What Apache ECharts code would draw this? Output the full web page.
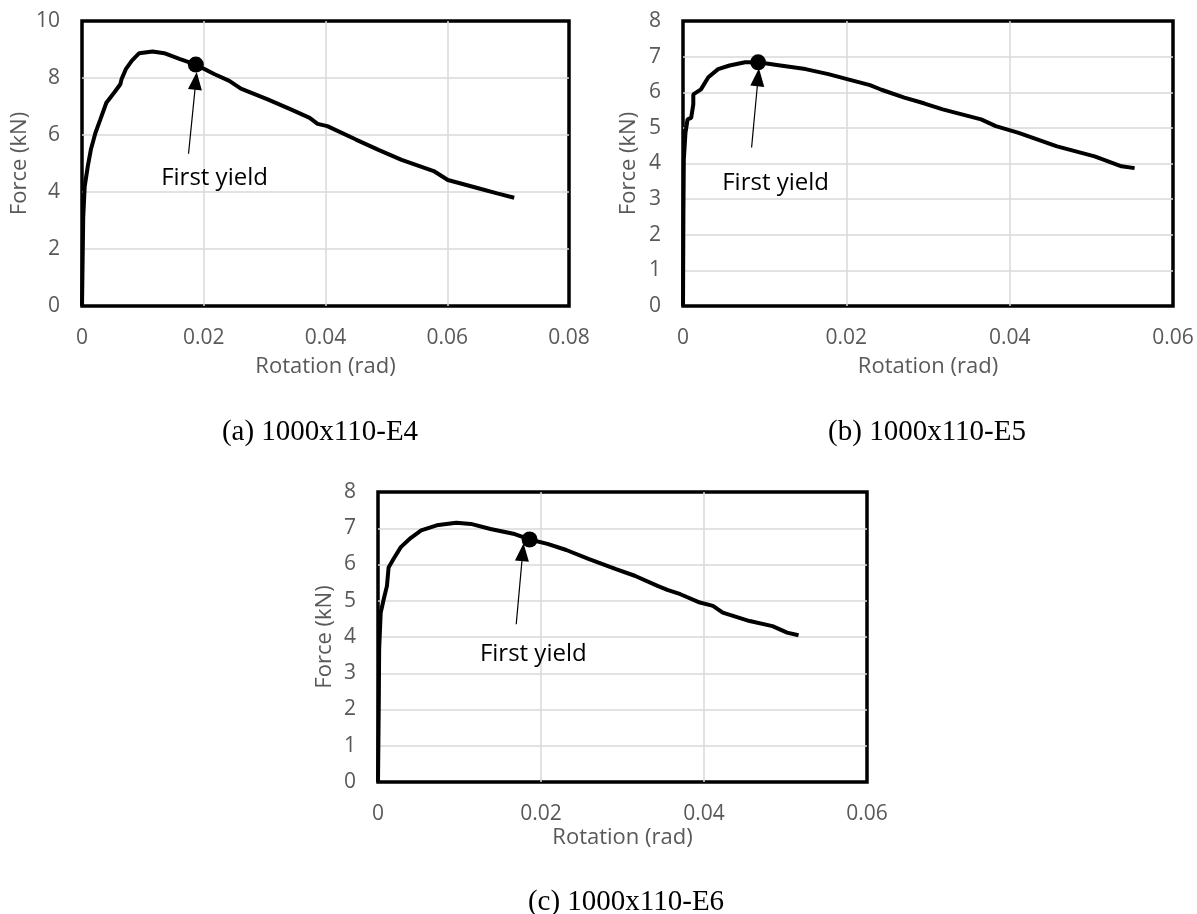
<!DOCTYPE html>
<html>
<head>
<meta charset="utf-8">
<script src="https://cdn.jsdelivr.net/npm/echarts@6/dist/echarts.min.js"></script>
<style>html,body{margin:0;padding:0;background:#fff}#c{width:1197px;height:914px}</style>
</head>
<body>
<div id="c"></div>
<script>
// ---- data ----
var aRot   = [0,0.0002,0.00044,0.00094,0.00145,0.0022,0.003,0.004,0.0053,0.0063,0.0065,0.0072,0.0082,0.0094,0.0116,0.0135,0.016,0.0187,0.0217,0.0242,0.0261,0.0305,0.0343,0.0374,0.0387,0.0403,0.045,0.0487,0.0525,0.0579,0.0601,0.0651,0.0682,0.0710];
var aForce = [0,3.1,4.19,4.89,5.48,6.07,6.54,7.13,7.49,7.78,7.96,8.31,8.61,8.87,8.93,8.87,8.67,8.47,8.14,7.9,7.63,7.25,6.9,6.6,6.39,6.31,5.84,5.48,5.13,4.72,4.42,4.13,3.95,3.8];
var bRot   = [0,0.00005,0.0001,0.0003,0.00056,0.001,0.00126,0.00126,0.0022,0.0031,0.0043,0.0057,0.0076,0.0092,0.0117,0.015,0.0178,0.0201,0.0229,0.0243,0.0271,0.0295,0.0318,0.0365,0.0383,0.0411,0.0458,0.0504,0.0537,0.0553];
var bForce = [0,2.6,4.1,4.86,5.24,5.28,5.66,5.94,6.08,6.42,6.65,6.75,6.84,6.84,6.76,6.65,6.51,6.37,6.2,6.07,5.85,5.69,5.52,5.24,5.05,4.86,4.48,4.2,3.92,3.87];
var cRot   = [0,0.0001,0.00014,0.00033,0.0007,0.0011,0.0013,0.0019,0.0028,0.004,0.0053,0.0072,0.0096,0.0114,0.0138,0.0166,0.0186,0.0208,0.0231,0.0259,0.0292,0.0315,0.0343,0.0355,0.0371,0.0395,0.0411,0.0423,0.0456,0.0484,0.0502,0.0516];
var cForce = [0,2.27,3.65,4.67,5.04,5.41,5.92,6.15,6.48,6.73,6.94,7.08,7.15,7.12,6.98,6.85,6.69,6.57,6.4,6.15,5.87,5.69,5.41,5.3,5.18,4.95,4.86,4.67,4.44,4.3,4.12,4.05];
// first yield points [rotation, force]
var yieldA = [0.0187, 8.47];
var yieldB = [0.0092, 6.84];
var yieldC = [0.0186, 6.69];
// annotation arrows: [tailX, tailY, tipX, tipY]; label anchor [x, y]
var arrowA = [0.0175, 5.34, 0.0187, 7.9];
var arrowB = [0.0084, 4.45, 0.0092, 6.42];
var arrowC = [0.01696, 4.35, 0.01776, 6.34];
var labelA = [0.0130, 4.48];
var labelB = [0.0048, 3.46];
var labelC = [0.0125, 3.52];
var annotText = 'First yield';
// axes
var xMaxA = 0.08, xMaxB = 0.06, xMaxC = 0.06, xStep = 0.02;
var yMaxA = 10, yStepA = 2, yMaxB = 8, yMaxC = 8, yStepBC = 1;
var xName = 'Rotation (rad)', yName = 'Force (kN)';
var captions = ['(a) 1000x110-E4', '(b) 1000x110-E5', '(c) 1000x110-E6'];

function pairs(xs, ys){ return xs.map(function(x,i){ return [x, ys[i]]; }); }
function tickFmt(v){ if (v === 0) return '0'; return String(+v.toFixed(4)); }

var gray = '#595959';
var font = 'Open Sans';
var gridLine = {show:true, showMinLine:false, showMaxLine:false, lineStyle:{color:'#d9d9d9', width:1.5}};
function xAxis(idx, max, gap){
  return {type:'value', gridIndex: idx, min:0, max:max, interval:xStep,
    name:xName, nameLocation:'middle', nameGap:gap,
    nameTextStyle:{color:gray, fontFamily:font, fontSize:22},
    axisLine:{show:false}, axisTick:{show:false},
    axisLabel:{color:gray, fontFamily:font, fontSize:21, margin:22, formatter:tickFmt},
    splitLine:gridLine};
}
function yAxis(idx, max, step, gap){
  return {type:'value', gridIndex: idx, min:0, max:max, interval:step,
    name:yName, nameLocation:'middle', nameGap:gap, nameRotate:90,
    nameTextStyle:{color:gray, fontFamily:font, fontSize:22},
    axisLine:{show:false}, axisTick:{show:false},
    axisLabel:{color:gray, fontFamily:font, fontSize:21, margin:22},
    splitLine:gridLine};
}
function curve(idx, data){
  return {type:'line', xAxisIndex:idx, yAxisIndex:idx, data:data, showSymbol:false, symbol:'none',
    lineStyle:{color:'#000', width:4}, silent:true, animation:false, z:3};
}
function annot(idx, pt, arrow){
  return {type:'scatter', xAxisIndex:idx, yAxisIndex:idx, data:[pt], symbolSize:16,
    itemStyle:{color:'#000', opacity:1}, animation:false, z:5,
    markLine:{silent:true, animation:false, symbol:['none','triangle'], symbolSize:[14,18],
      lineStyle:{color:'#000', width:1.2, type:'solid', opacity:1}, itemStyle:{color:'#000'}, label:{show:false},
      data:[[{coord:[arrow[0],arrow[1]]},{coord:[arrow[2],arrow[3]]}]]}};
}
function textLabel(idx, lab){
  return {type:'scatter', xAxisIndex:idx, yAxisIndex:idx, data:[lab], symbolSize:0, animation:false, z:6,
    itemStyle:{opacity:1},
    label:{show:true, position:'right', distance:0, formatter:annotText, color:'#000', fontFamily:font, fontSize:24}};
}

var chart = echarts.init(document.getElementById('c'), null, {renderer:'canvas'});
var border = {show:true, borderColor:'#000', borderWidth:3.5, backgroundColor:'transparent'};
chart.setOption({
  animation:false,
  backgroundColor:'#fff',
  grid:[
    Object.assign({left:82, top:21, width:487, height:285}, border),
    Object.assign({left:683, top:21, width:490, height:285}, border),
    Object.assign({left:378, top:492, width:489, height:290}, border)
  ],
  xAxis:[xAxis(0,xMaxA,50), xAxis(1,xMaxB,50), xAxis(2,xMaxC,45)],
  yAxis:[yAxis(0,yMaxA,yStepA,51), yAxis(1,yMaxB,yStepBC,43), yAxis(2,yMaxC,yStepBC,42)],
  series:[
    curve(0, pairs(aRot,aForce)), curve(1, pairs(bRot,bForce)), curve(2, pairs(cRot,cForce)),
    annot(0, yieldA, arrowA), annot(1, yieldB, arrowB), annot(2, yieldC, arrowC),
    textLabel(0, labelA), textLabel(1, labelB), textLabel(2, labelC)
  ],
  graphic:[
    {type:'text', x:320, y:432, style:{text:captions[0], fill:'#000', font:'29px "Liberation Serif"', textAlign:'center', textVerticalAlign:'middle'}},
    {type:'text', x:927, y:432, style:{text:captions[1], fill:'#000', font:'29px "Liberation Serif"', textAlign:'center', textVerticalAlign:'middle'}},
    {type:'text', x:626, y:902, style:{text:captions[2], fill:'#000', font:'29px "Liberation Serif"', textAlign:'center', textVerticalAlign:'middle'}}
  ]
});
</script>
</body>
</html>
